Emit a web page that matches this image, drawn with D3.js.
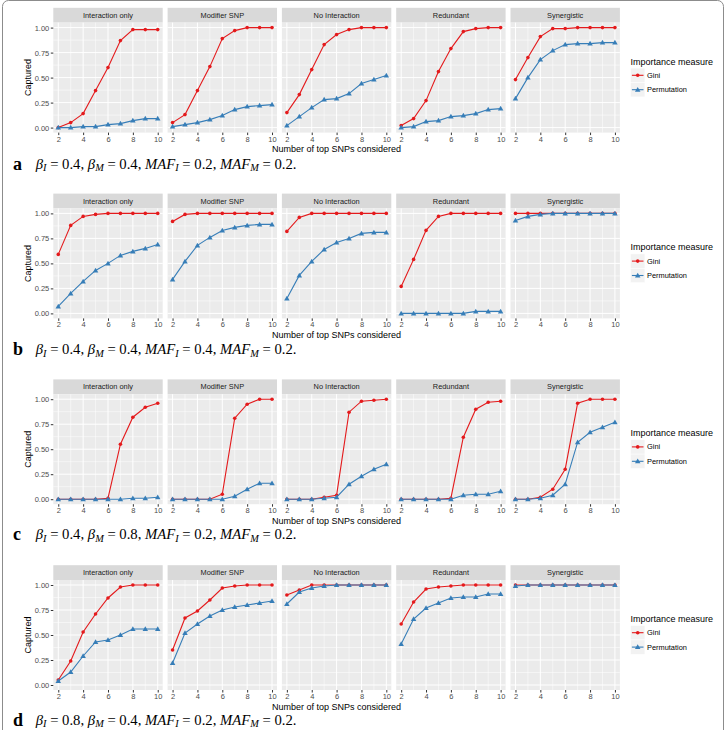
<!DOCTYPE html>
<html><head><meta charset="utf-8">
<script src="https://cdn.jsdelivr.net/npm/d3@7"></script>
<style>body{margin:0;background:#fff} svg{display:block} text{white-space:pre}</style>
</head><body>
<svg id="c" width="727" height="730"></svg>
<script>
// ---------- data ----------
const xValues = [2,3,4,5,6,7,8,9,10];
const facets = ["Interaction only","Modifier SNP","No Interaction","Redundant","Synergistic"];
const measures = ["Gini","Permutation"];
const yTicks = [0,0.25,0.5,0.75,1];
const xTicks = [2,4,6,8,10];
const panelLabels = ["a","b","c","d"];
const betaI = [0.4,0.4,0.4,0.8];
const betaM = [0.4,0.4,0.8,0.4];
const mafI  = [0.2,0.4,0.2,0.2];
const mafM  = [0.2,0.2,0.2,0.2];

// row a
const giniA = [
  [0.00,0.05,0.14,0.37,0.60,0.87,0.98,0.98,0.98],
  [0.05,0.13,0.37,0.61,0.89,0.97,1.00,1.00,1.00],
  [0.15,0.33,0.58,0.83,0.93,0.98,1.00,1.00,1.00],
  [0.02,0.09,0.27,0.56,0.79,0.96,0.99,1.00,1.00],
  [0.48,0.70,0.91,0.99,0.99,1.00,1.00,1.00,1.00]
];
const permA = [
  [0.00,0.00,0.01,0.01,0.03,0.04,0.07,0.09,0.09],
  [0.01,0.03,0.05,0.08,0.12,0.18,0.21,0.22,0.23],
  [0.02,0.11,0.20,0.28,0.29,0.34,0.44,0.48,0.52],
  [0.00,0.01,0.06,0.07,0.11,0.12,0.14,0.18,0.19],
  [0.29,0.50,0.68,0.77,0.83,0.84,0.84,0.85,0.85]
];
// row b
const giniB = [
  [0.59,0.88,0.97,0.99,1.00,1.00,1.00,1.00,1.00],
  [0.92,0.99,1.00,1.00,1.00,1.00,1.00,1.00,1.00],
  [0.82,0.96,1.00,1.00,1.00,1.00,1.00,1.00,1.00],
  [0.27,0.54,0.83,0.97,1.00,1.00,1.00,1.00,1.00],
  [1.00,1.00,1.00,1.00,1.00,1.00,1.00,1.00,1.00]
];
const permB = [
  [0.07,0.20,0.32,0.43,0.50,0.58,0.62,0.65,0.69],
  [0.34,0.52,0.68,0.76,0.83,0.86,0.88,0.89,0.89],
  [0.15,0.38,0.52,0.64,0.71,0.75,0.80,0.81,0.81],
  [0.00,0.00,0.00,0.00,0.00,0.00,0.02,0.02,0.02],
  [0.93,0.97,0.99,1.00,1.00,1.00,1.00,1.00,1.00]
];
// row c
const giniC = [
  [0.00,0.00,0.00,0.00,0.01,0.55,0.82,0.92,0.96],
  [0.00,0.00,0.00,0.00,0.05,0.81,0.95,1.00,1.00],
  [0.00,0.00,0.00,0.02,0.04,0.87,0.98,0.99,1.00],
  [0.00,0.00,0.00,0.00,0.01,0.62,0.90,0.97,0.98],
  [0.00,0.00,0.02,0.10,0.30,0.96,1.00,1.00,1.00]
];
const permC = [
  [0.00,0.00,0.00,0.00,0.00,0.00,0.01,0.01,0.02],
  [0.00,0.00,0.00,0.00,0.00,0.03,0.10,0.16,0.16],
  [0.00,0.00,0.00,0.01,0.02,0.15,0.23,0.30,0.35],
  [0.00,0.00,0.00,0.00,0.00,0.04,0.05,0.05,0.08],
  [0.00,0.00,0.01,0.04,0.15,0.57,0.67,0.72,0.77]
];
// row d
const giniD = [
  [0.05,0.24,0.53,0.71,0.87,0.98,1.00,1.00,1.00],
  [0.35,0.67,0.74,0.85,0.97,0.99,1.00,1.00,1.00],
  [0.90,0.95,1.00,1.00,1.00,1.00,1.00,1.00,1.00],
  [0.61,0.83,0.96,0.98,0.99,1.00,1.00,1.00,1.00],
  [1.00,1.00,1.00,1.00,1.00,1.00,1.00,1.00,1.00]
];
const permD = [
  [0.04,0.13,0.29,0.43,0.45,0.50,0.56,0.56,0.56],
  [0.22,0.52,0.61,0.69,0.75,0.78,0.80,0.82,0.84],
  [0.81,0.93,0.97,0.99,1.00,1.00,1.00,1.00,1.00],
  [0.41,0.66,0.77,0.82,0.87,0.88,0.88,0.91,0.91],
  [0.99,1.00,1.00,1.00,1.00,1.00,1.00,1.00,1.00]
];
const rows = [[giniA,permA],[giniB,permB],[giniC,permC],[giniD,permD]];

// ---------- layout ----------
const colors = {Gini:"#E41A1C", Permutation:"#377EB8"};
const panelLeft0 = 53.3, panelStep = 114.3, panelW = 109.4;
const panelTop0 = 22.6, rowStep = 185.8, panelH = 110, stripH = 14.8;
const font = "Liberation Sans, Arial, Helvetica, sans-serif";

const svg = d3.select("#c");
svg.append("rect").attr("x",2.5).attr("y",0.5).attr("width",721).attr("height",780)
  .attr("rx",6).attr("fill","none").attr("stroke","#8c8c8c").attr("stroke-width",1);

const x = d3.scaleLinear().domain([1.6,10.4]).range([0,panelW]);
const y = d3.scaleLinear().domain([-0.05,1.05]).range([panelH,0]);
const line = d3.line().x((d,i)=>x(xValues[i])).y(d=>y(d));
const tri = d3.symbol().type(d3.symbolTriangle).size(13);

rows.forEach((rowData,r)=>{
  const top = panelTop0 + r*rowStep;
  const rg = svg.append("g");
  facets.forEach((f,fi)=>{
    const g = rg.append("g").attr("transform",`translate(${panelLeft0+fi*panelStep},${top})`);
    // strip
    g.append("rect").attr("x",0).attr("y",-stripH).attr("width",panelW).attr("height",stripH).attr("fill","#D9D9D9");
    g.append("text").attr("x",panelW/2).attr("y",-stripH/2+2.6).attr("text-anchor","middle")
      .attr("font-family",font).attr("font-size",7.4).attr("fill","#1A1A1A").text(f);
    // panel
    g.append("rect").attr("width",panelW).attr("height",panelH).attr("fill","#EBEBEB");
    const minorY = [0.125,0.375,0.625,0.875], minorX=[3,5,7,9];
    g.selectAll(".my").data(minorY).join("line").attr("x1",0).attr("x2",panelW)
      .attr("y1",d=>y(d)).attr("y2",d=>y(d)).attr("stroke","#fff").attr("stroke-width",0.5);
    g.selectAll(".mx").data(minorX).join("line").attr("y1",0).attr("y2",panelH)
      .attr("x1",d=>x(d)).attr("x2",d=>x(d)).attr("stroke","#fff").attr("stroke-width",0.5);
    g.selectAll(".Y").data(yTicks).join("line").attr("x1",0).attr("x2",panelW)
      .attr("y1",d=>y(d)).attr("y2",d=>y(d)).attr("stroke","#fff").attr("stroke-width",1);
    g.selectAll(".X").data(xTicks).join("line").attr("y1",0).attr("y2",panelH)
      .attr("x1",d=>x(d)).attr("x2",d=>x(d)).attr("stroke","#fff").attr("stroke-width",1);
    // x axis
    const xa = g.append("g").attr("transform",`translate(0,${panelH})`)
      .call(d3.axisBottom(x).tickValues(xTicks).tickSize(2.5).tickPadding(1.2));
    xa.select(".domain").remove();
    xa.selectAll("line").attr("stroke","#333");
    xa.selectAll("text").attr("font-family",font).attr("font-size",7.5).attr("fill","#4D4D4D");
    if(fi===0){
      const ya = g.append("g").call(d3.axisLeft(y).tickValues(yTicks).tickFormat(d3.format(".2f")).tickSize(2.5).tickPadding(1.5));
      ya.select(".domain").remove();
      ya.selectAll("line").attr("stroke","#333");
      ya.selectAll("text").attr("font-family",font).attr("font-size",7.5).attr("fill","#4D4D4D");
    }
    // series
    measures.forEach((m,mi)=>{
      const vals = rowData[mi][fi];
      g.append("path").attr("d",line(vals)).attr("fill","none").attr("stroke",colors[m]).attr("stroke-width",1.1);
      if(m==="Gini"){
        g.selectAll(".pg").data(vals).join("circle").attr("cx",(d,i)=>x(xValues[i])).attr("cy",d=>y(d))
          .attr("r",1.8).attr("fill",colors[m]);
      } else {
        g.selectAll(".pp").data(vals).join("path").attr("d",tri)
          .attr("transform",(d,i)=>`translate(${x(xValues[i])},${y(d)+0.4})`).attr("fill",colors[m]);
      }
    });
  });
  // axis titles
  rg.append("text").attr("transform",`translate(31,${top+panelH/2}) rotate(-90)`).attr("text-anchor","middle")
    .attr("font-family",font).attr("font-size",9).attr("fill","#000").text("Captured");
  rg.append("text").attr("x",336.5).attr("y",top+panelH+19.5).attr("text-anchor","middle")
    .attr("font-family",font).attr("font-size",9).attr("fill","#000").text("Number of top SNPs considered");
  // legend
  const lg = rg.append("g").attr("transform",`translate(630.5,${top})`);
  lg.append("text").attr("x",0).attr("y",42).attr("font-family",font).attr("font-size",9).attr("fill","#000").text("Importance measure");
  measures.forEach((m,mi)=>{
    const cy = 52.7 + mi*14.4;
    lg.append("rect").attr("x",0).attr("y",cy-7.2).attr("width",14.4).attr("height",14.4).attr("fill","#F2F2F2").attr("stroke","#fff").attr("stroke-width",0.5);
    lg.append("line").attr("x1",1.4).attr("x2",13).attr("y1",cy).attr("y2",cy).attr("stroke",colors[m]).attr("stroke-width",1.1);
    if(m==="Gini") lg.append("circle").attr("cx",7.2).attr("cy",cy).attr("r",1.8).attr("fill",colors[m]);
    else lg.append("path").attr("d",tri).attr("transform",`translate(7.2,${cy+0.4})`).attr("fill",colors[m]);
    lg.append("text").attr("x",16.5).attr("y",cy+2.6).attr("font-family",font).attr("font-size",7.4).attr("fill","#000").text(m);
  });
  // caption
  const base = 170 + r*rowStep - r*0.6;
  rg.append("text").attr("x",13).attr("y",base).attr("font-family","Liberation Serif, Times New Roman, serif")
    .attr("font-weight","bold").attr("font-size",18).text(panelLabels[r]);
  const cap = rg.append("text").attr("class","cap").attr("x",35.7).attr("y",base-1)
    .attr("font-family","Liberation Serif, Times New Roman, serif").attr("font-size",15).attr("fill","#000");
  const segs = [["β","i"],["I","s"],[` = ${betaI[r]}, `,"n"],["β","i"],["M","s"],[` = ${betaM[r]}, `,"n"],
                ["MAF","i"],["I","s"],[` = ${mafI[r]}, `,"n"],["MAF","i"],["M","s"],[` = ${mafM[r]}.`,"n"]];
  let prevSub=false;
  segs.forEach(([t,k])=>{
    const ts = cap.append("tspan").text(t);
    if(k==="i") ts.attr("font-style","italic");
    if(k==="s"){ ts.attr("font-style","italic").attr("font-size","0.7em").attr("dy",2.4); prevSub=true; }
    else if(prevSub){ ts.attr("dy",-2.4); prevSub=false; }
  });
});
// fit caption width to ~261px
svg.selectAll(".cap").each(function(){
  const w = this.getComputedTextLength();
  d3.select(this).attr("font-size", 15*261/w);
});
</script>
</body></html>
